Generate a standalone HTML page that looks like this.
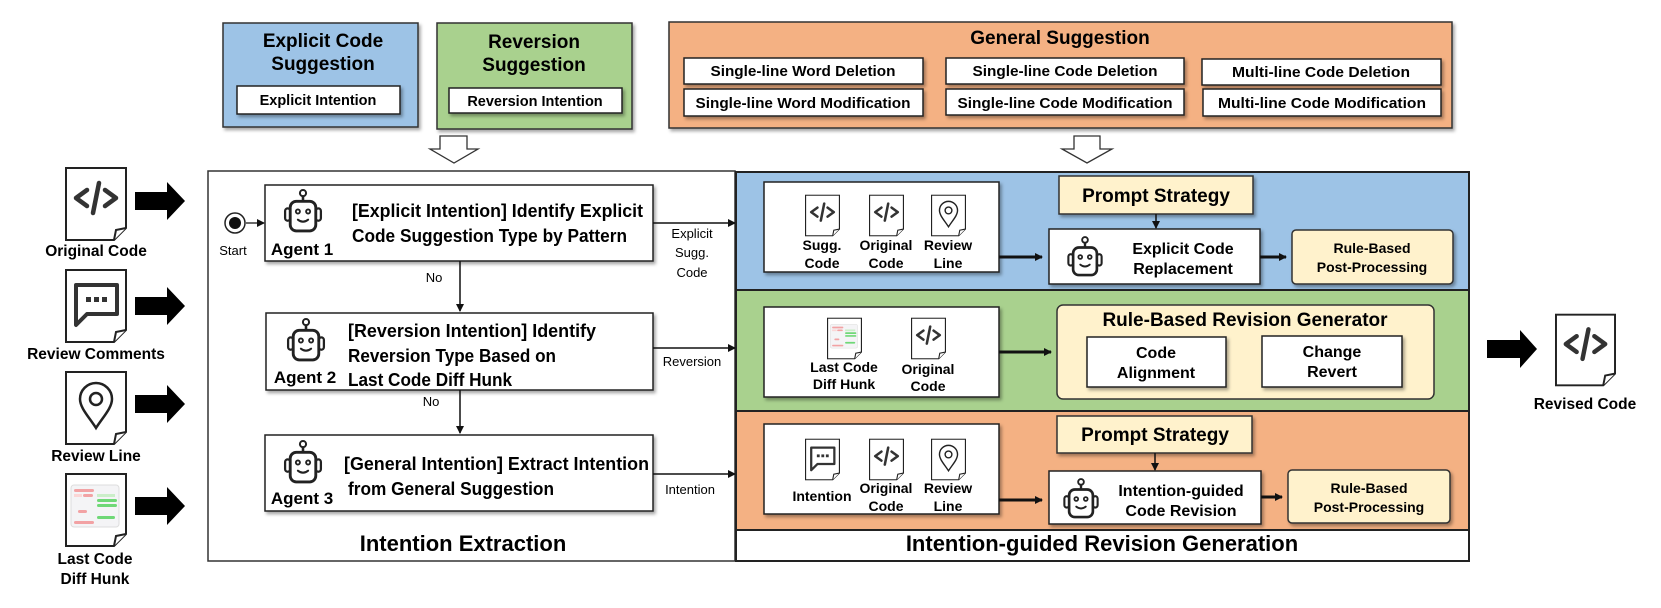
<!DOCTYPE html>
<html><head><meta charset="utf-8"><style>
html,body{margin:0;padding:0;background:#fff;}
svg{display:block;font-family:"Liberation Sans",sans-serif;}
.b{font-weight:bold;}
</style></head><body>
<svg width="1661" height="608" viewBox="0 0 1661 608" xmlns="http://www.w3.org/2000/svg">
<defs>
<filter id="sh" x="-10%" y="-10%" width="130%" height="140%"><feDropShadow dx="2" dy="2.5" stdDeviation="1.5" flood-color="#000" flood-opacity="0.35"/></filter>
<marker id="ah" markerWidth="8" markerHeight="8" refX="7" refY="4" orient="auto" markerUnits="userSpaceOnUse"><path d="M0,0 L8,4 L0,8 Z" fill="#111"/></marker>
<symbol id="doc" viewBox="0 0 62 74"><path d="M1 1 H61 V61 L49 73 H1 Z" fill="#fff" stroke="#222" stroke-width="2"/><path d="M49 73 L51 63 L61 61" fill="#fff" stroke="#222" stroke-width="2"/></symbol>
<symbol id="code" viewBox="0 0 62 74"><use href="#doc" width="62" height="74"/><path d="M22 23 L11 31 L22 39 M40 23 L51 31 L40 39 M34 16 L28 46" fill="none" stroke="#333" stroke-width="4.5" stroke-linecap="round" stroke-linejoin="round"/></symbol>
<symbol id="cmt" viewBox="0 0 62 74"><use href="#doc" width="62" height="74"/><path d="M11 16 H52 V45 H22 L11 56 Z" fill="none" stroke="#333" stroke-width="4" stroke-linejoin="round"/><rect x="21" y="28" width="5" height="5" fill="#333"/><rect x="29" y="28" width="5" height="5" fill="#333"/><rect x="37" y="28" width="5" height="5" fill="#333"/></symbol>
<symbol id="pin" viewBox="0 0 62 74"><use href="#doc" width="62" height="74"/><path d="M31 57 C24 46 15 37 15 28 A16 16 0 0 1 47 28 C47 37 38 46 31 57 Z" fill="none" stroke="#222" stroke-width="2.5"/><circle cx="31" cy="28" r="6" fill="none" stroke="#222" stroke-width="2.5"/></symbol>
<symbol id="diff" viewBox="0 0 62 74"><use href="#doc" width="62" height="74"/><rect x="6" y="12" width="48" height="42" rx="3" fill="#f4f4f6" stroke="#ddd"/><rect x="9" y="16" width="20" height="3" rx="1.5" fill="#f2a2a4"/><rect x="9" y="21" width="8" height="3" fill="#fbd6d6"/><rect x="18" y="21" width="10" height="3" rx="1.5" fill="#f2a2a4"/><rect x="32" y="21" width="18" height="3" fill="#cbeec9"/><rect x="32" y="26" width="20" height="3" rx="1.5" fill="#6fd877"/><rect x="32" y="31" width="20" height="3" rx="1.5" fill="#6fd877"/><rect x="13" y="37" width="9" height="3" rx="1.5" fill="#f2a2a4"/><rect x="32" y="43" width="18" height="3" rx="1.5" fill="#6fd877"/><rect x="9" y="48" width="20" height="3" rx="1.5" fill="#f2a2a4"/></symbol>
<symbol id="bot" viewBox="0 0 40 44"><circle cx="20" cy="4" r="3" fill="#fff" stroke="#222" stroke-width="2"/><path d="M20 7 V12" stroke="#222" stroke-width="2.5"/><rect x="2.5" y="19" width="5" height="12" rx="2.5" fill="#fff" stroke="#222" stroke-width="2.2"/><rect x="32.5" y="19" width="5" height="12" rx="2.5" fill="#fff" stroke="#222" stroke-width="2.2"/><rect x="7.5" y="12" width="25" height="29" rx="6" fill="#fff" stroke="#222" stroke-width="2.8"/><circle cx="15" cy="22" r="2" fill="none" stroke="#222" stroke-width="1.8"/><circle cx="25" cy="22" r="2" fill="none" stroke="#222" stroke-width="1.8"/><path d="M15 30 Q20 34 25 30" fill="none" stroke="#222" stroke-width="2" stroke-linecap="round"/></symbol>
</defs>

<!-- top suggestion boxes -->
<rect x="223" y="23" width="195" height="104" fill="#9dc3e6" stroke="#333" stroke-width="1.5" filter="url(#sh)"/>
<text x="323" y="47" text-anchor="middle" class="b" font-size="19">Explicit Code</text>
<text x="323" y="70" text-anchor="middle" class="b" font-size="19">Suggestion</text>
<rect x="237" y="86" width="163" height="28" fill="#fff" stroke="#222" stroke-width="1.5" filter="url(#sh)"/>
<text x="318" y="105" text-anchor="middle" class="b" font-size="14.5">Explicit Intention</text>

<rect x="437" y="23" width="195" height="106" fill="#a9d18e" stroke="#333" stroke-width="1.5" filter="url(#sh)"/>
<text x="534" y="48" text-anchor="middle" class="b" font-size="19">Reversion</text>
<text x="534" y="71" text-anchor="middle" class="b" font-size="19">Suggestion</text>
<rect x="449" y="88" width="173" height="25" fill="#fff" stroke="#222" stroke-width="1.5" filter="url(#sh)"/>
<text x="535" y="106" text-anchor="middle" class="b" font-size="14.5">Reversion Intention</text>

<rect x="669" y="22" width="783" height="106" fill="#f4b183" stroke="#333" stroke-width="1.5" filter="url(#sh)"/>
<text x="1060" y="44" text-anchor="middle" class="b" font-size="19">General Suggestion</text>
<g font-size="14.5" class="b" text-anchor="middle">
<rect x="684" y="58" width="239" height="26" fill="#fff" stroke="#222" stroke-width="1.5" filter="url(#sh)"/><text x="803" y="76" textLength="185" lengthAdjust="spacingAndGlyphs">Single-line Word Deletion</text>
<rect x="684" y="89" width="239" height="27" fill="#fff" stroke="#222" stroke-width="1.5" filter="url(#sh)"/><text x="803" y="108" textLength="215" lengthAdjust="spacingAndGlyphs">Single-line Word Modification</text>
<rect x="946" y="58" width="238" height="26" fill="#fff" stroke="#222" stroke-width="1.5" filter="url(#sh)"/><text x="1065" y="76" textLength="185" lengthAdjust="spacingAndGlyphs">Single-line Code Deletion</text>
<rect x="946" y="89" width="238" height="26" fill="#fff" stroke="#222" stroke-width="1.5" filter="url(#sh)"/><text x="1065" y="108" textLength="215" lengthAdjust="spacingAndGlyphs">Single-line Code Modification</text>
<rect x="1202" y="59" width="239" height="26" fill="#fff" stroke="#222" stroke-width="1.5" filter="url(#sh)"/><text x="1321" y="77" textLength="178" lengthAdjust="spacingAndGlyphs">Multi-line Code Deletion</text>
<rect x="1203" y="89" width="238" height="27" fill="#fff" stroke="#222" stroke-width="1.5" filter="url(#sh)"/><text x="1322" y="108" textLength="208" lengthAdjust="spacingAndGlyphs">Multi-line Code Modification</text>
</g>

<!-- hollow arrows -->
<polygon points="440,136 467,136 467,149 478,149 454,163 430,149 440,149" fill="#fff" stroke="#333" stroke-width="1.3"/>
<polygon points="1074,136 1100,136 1100,149 1112,149 1087,163 1062,149 1074,149" fill="#fff" stroke="#333" stroke-width="1.3"/>

<!-- left inputs -->
<use href="#code" x="65" y="167" width="62" height="74"/>
<text x="96" y="256" text-anchor="middle" class="b" font-size="15.5">Original Code</text>
<use href="#cmt" x="65" y="269" width="62" height="74"/>
<text x="96" y="359" text-anchor="middle" class="b" font-size="15.5">Review Comments</text>
<use href="#pin" x="65" y="371" width="62" height="74"/>
<text x="96" y="461" text-anchor="middle" class="b" font-size="15.5">Review Line</text>
<use href="#diff" x="65" y="473" width="62" height="74"/>
<text x="95" y="564" text-anchor="middle" class="b" font-size="15.5">Last Code</text>
<text x="95" y="584" text-anchor="middle" class="b" font-size="15.5">Diff Hunk</text>
<g fill="#000">
<polygon points="135,192 167,192 167,182 185,201 167,220 167,210 135,210"/>
<polygon points="135,297 167,297 167,287 185,306 167,325 167,315 135,315"/>
<polygon points="135,395 167,395 167,385 185,404 167,423 167,413 135,413"/>
<polygon points="135,497 167,497 167,487 185,506 167,525 167,515 135,515"/>
<polygon points="1487,340 1520,340 1520,330 1537,349 1520,368 1520,358 1487,358"/>
</g>

<!-- Intention extraction box -->
<rect x="208" y="171" width="527" height="390" fill="#fff" stroke="#333" stroke-width="1.5"/>
<circle cx="235" cy="223" r="10" fill="#fff" stroke="#222" stroke-width="1.5"/>
<circle cx="235" cy="223" r="6" fill="#111"/>
<line x1="246" y1="223" x2="264" y2="223" stroke="#111" stroke-width="1.3" marker-end="url(#ah)"/>
<text x="233" y="255" text-anchor="middle" font-size="13">Start</text>

<g font-size="18" class="b">
<rect x="265" y="185" width="388" height="76" fill="#fff" stroke="#222" stroke-width="1.5" filter="url(#sh)"/>
<use href="#bot" x="280" y="189" width="46" height="45"/>
<text x="302" y="255" text-anchor="middle" font-size="17">Agent 1</text>
<text x="352" y="217" textLength="291" lengthAdjust="spacingAndGlyphs">[Explicit Intention] Identify Explicit</text>
<text x="352" y="242" textLength="275" lengthAdjust="spacingAndGlyphs">Code Suggestion Type by Pattern</text>

<rect x="266" y="313" width="387" height="77" fill="#fff" stroke="#222" stroke-width="1.5" filter="url(#sh)"/>
<use href="#bot" x="283" y="318" width="46" height="45"/>
<text x="305" y="383" text-anchor="middle" font-size="17">Agent 2</text>
<text x="348" y="337" textLength="248" lengthAdjust="spacingAndGlyphs">[Reversion Intention] Identify</text>
<text x="348" y="362" textLength="208" lengthAdjust="spacingAndGlyphs">Reversion Type Based on</text>
<text x="348" y="386" textLength="164" lengthAdjust="spacingAndGlyphs">Last Code Diff Hunk</text>

<rect x="265" y="435" width="388" height="76" fill="#fff" stroke="#222" stroke-width="1.5" filter="url(#sh)"/>
<use href="#bot" x="280" y="440" width="46" height="45"/>
<text x="302" y="504" text-anchor="middle" font-size="17">Agent 3</text>
<text x="344" y="470" textLength="305" lengthAdjust="spacingAndGlyphs">[General Intention] Extract Intention</text>
<text x="348" y="495" textLength="206" lengthAdjust="spacingAndGlyphs">from General Suggestion</text>
</g>
<g stroke="#111" stroke-width="1.5">
<line x1="460" y1="261" x2="460" y2="311" marker-end="url(#ah)"/>
<line x1="460" y1="390" x2="460" y2="433" marker-end="url(#ah)"/>
<line x1="653" y1="223" x2="735" y2="223" marker-end="url(#ah)"/>
<line x1="653" y1="348" x2="735" y2="348" marker-end="url(#ah)"/>
<line x1="653" y1="474" x2="735" y2="474" marker-end="url(#ah)"/>
</g>
<g font-size="13" text-anchor="middle">
<text x="434" y="282">No</text><text x="431" y="406">No</text>
<text x="692" y="238">Explicit</text><text x="692" y="257">Sugg.</text><text x="692" y="277">Code</text>
<text x="692" y="366">Reversion</text>
<text x="690" y="494">Intention</text>
</g>
<text x="463" y="551" text-anchor="middle" class="b" font-size="22">Intention Extraction</text>

<!-- Revision generation box -->
<rect x="736" y="172" width="733" height="389" fill="#fff" stroke="#222" stroke-width="2"/>
<rect x="736" y="172" width="733" height="118" fill="#9dc3e6" stroke="#222" stroke-width="2"/>
<rect x="736" y="290" width="733" height="121" fill="#a9d18e" stroke="#222" stroke-width="2"/>
<rect x="736" y="411" width="733" height="119" fill="#f4b183" stroke="#222" stroke-width="2"/>
<text x="1102" y="551" text-anchor="middle" class="b" font-size="22">Intention-guided Revision Generation</text>

<g class="b" font-size="14" text-anchor="middle">
<!-- blue -->
<rect x="764" y="182" width="235" height="90" fill="#fff" stroke="#222" stroke-width="1.5" filter="url(#sh)"/>
<use href="#code" x="805" y="194" width="35" height="43"/>
<use href="#code" x="869" y="194" width="35" height="43"/>
<use href="#pin" x="931" y="194" width="35" height="43"/>
<text x="822" y="250">Sugg.</text><text x="822" y="268">Code</text>
<text x="886" y="250">Original</text><text x="886" y="268">Code</text>
<text x="948" y="250">Review</text><text x="948" y="268">Line</text>
<rect x="1059" y="176" width="194" height="38" fill="#fff2cc" stroke="#333" stroke-width="1.5" filter="url(#sh)"/>
<text x="1156" y="202" font-size="19">Prompt Strategy</text>
<rect x="1049" y="229" width="211" height="55" fill="#fff" stroke="#222" stroke-width="1.5" filter="url(#sh)"/>
<use href="#bot" x="1066" y="236" width="38" height="42"/>
<text x="1183" y="254" font-size="16">Explicit Code</text><text x="1183" y="274" font-size="16">Replacement</text>
<rect x="1292" y="230" width="161" height="54" rx="4" fill="#fff2cc" stroke="#333" stroke-width="1.5" filter="url(#sh)"/>
<text x="1372" y="253">Rule-Based</text><text x="1372" y="272">Post-Processing</text>

<!-- green -->
<rect x="764" y="307" width="235" height="90" fill="#fff" stroke="#222" stroke-width="1.5" filter="url(#sh)"/>
<use href="#diff" x="827" y="317" width="35" height="43"/>
<use href="#code" x="911" y="317" width="35" height="43"/>
<text x="844" y="372">Last Code</text><text x="844" y="389">Diff Hunk</text>
<text x="928" y="374">Original</text><text x="928" y="391">Code</text>
<rect x="1057" y="305" width="377" height="94" rx="6" fill="#fff2cc" stroke="#333" stroke-width="1.5"/>
<text x="1245" y="326" font-size="19">Rule-Based Revision Generator</text>
<rect x="1087" y="337" width="139" height="50" fill="#fff" stroke="#222" stroke-width="1.5" filter="url(#sh)"/>
<text x="1156" y="358" font-size="16">Code</text><text x="1156" y="378" font-size="16">Alignment</text>
<rect x="1262" y="336" width="140" height="51" fill="#fff" stroke="#222" stroke-width="1.5" filter="url(#sh)"/>
<text x="1332" y="357" font-size="16">Change</text><text x="1332" y="377" font-size="16">Revert</text>

<!-- orange -->
<rect x="764" y="424" width="235" height="90" fill="#fff" stroke="#222" stroke-width="1.5" filter="url(#sh)"/>
<use href="#cmt" x="805" y="438" width="35" height="43"/>
<use href="#code" x="869" y="438" width="35" height="43"/>
<use href="#pin" x="931" y="438" width="35" height="43"/>
<text x="822" y="501">Intention</text>
<text x="886" y="493">Original</text><text x="886" y="511">Code</text>
<text x="948" y="493">Review</text><text x="948" y="511">Line</text>
<rect x="1057" y="416" width="195" height="37" fill="#fff2cc" stroke="#333" stroke-width="1.5" filter="url(#sh)"/>
<text x="1155" y="441" font-size="19">Prompt Strategy</text>
<rect x="1049" y="471" width="212" height="53" fill="#fff" stroke="#222" stroke-width="1.5" filter="url(#sh)"/>
<use href="#bot" x="1062" y="478" width="38" height="42"/>
<text x="1181" y="496" font-size="16">Intention-guided</text><text x="1181" y="516" font-size="16">Code Revision</text>
<rect x="1288" y="470" width="162" height="53" rx="4" fill="#fff2cc" stroke="#333" stroke-width="1.5" filter="url(#sh)"/>
<text x="1369" y="493">Rule-Based</text><text x="1369" y="512">Post-Processing</text>
</g>
<g stroke="#111" stroke-width="3">
<line x1="999" y1="257" x2="1042" y2="257" marker-end="url(#ah)"/>
<line x1="1260" y1="257" x2="1286" y2="257" marker-end="url(#ah)"/>
<line x1="999" y1="352" x2="1051" y2="352" marker-end="url(#ah)"/>
<line x1="999" y1="500" x2="1042" y2="500" marker-end="url(#ah)"/>
<line x1="1261" y1="497" x2="1282" y2="497" marker-end="url(#ah)"/>
</g>
<g stroke="#111" stroke-width="1.5">
<line x1="1156" y1="214" x2="1156" y2="228" marker-end="url(#ah)"/>
<line x1="1155" y1="453" x2="1155" y2="470" marker-end="url(#ah)"/>
</g>

<!-- output -->
<use href="#code" x="1555" y="313" width="61" height="74"/>
<text x="1585" y="409" text-anchor="middle" class="b" font-size="15.5">Revised Code</text>
</svg>
</body></html>
